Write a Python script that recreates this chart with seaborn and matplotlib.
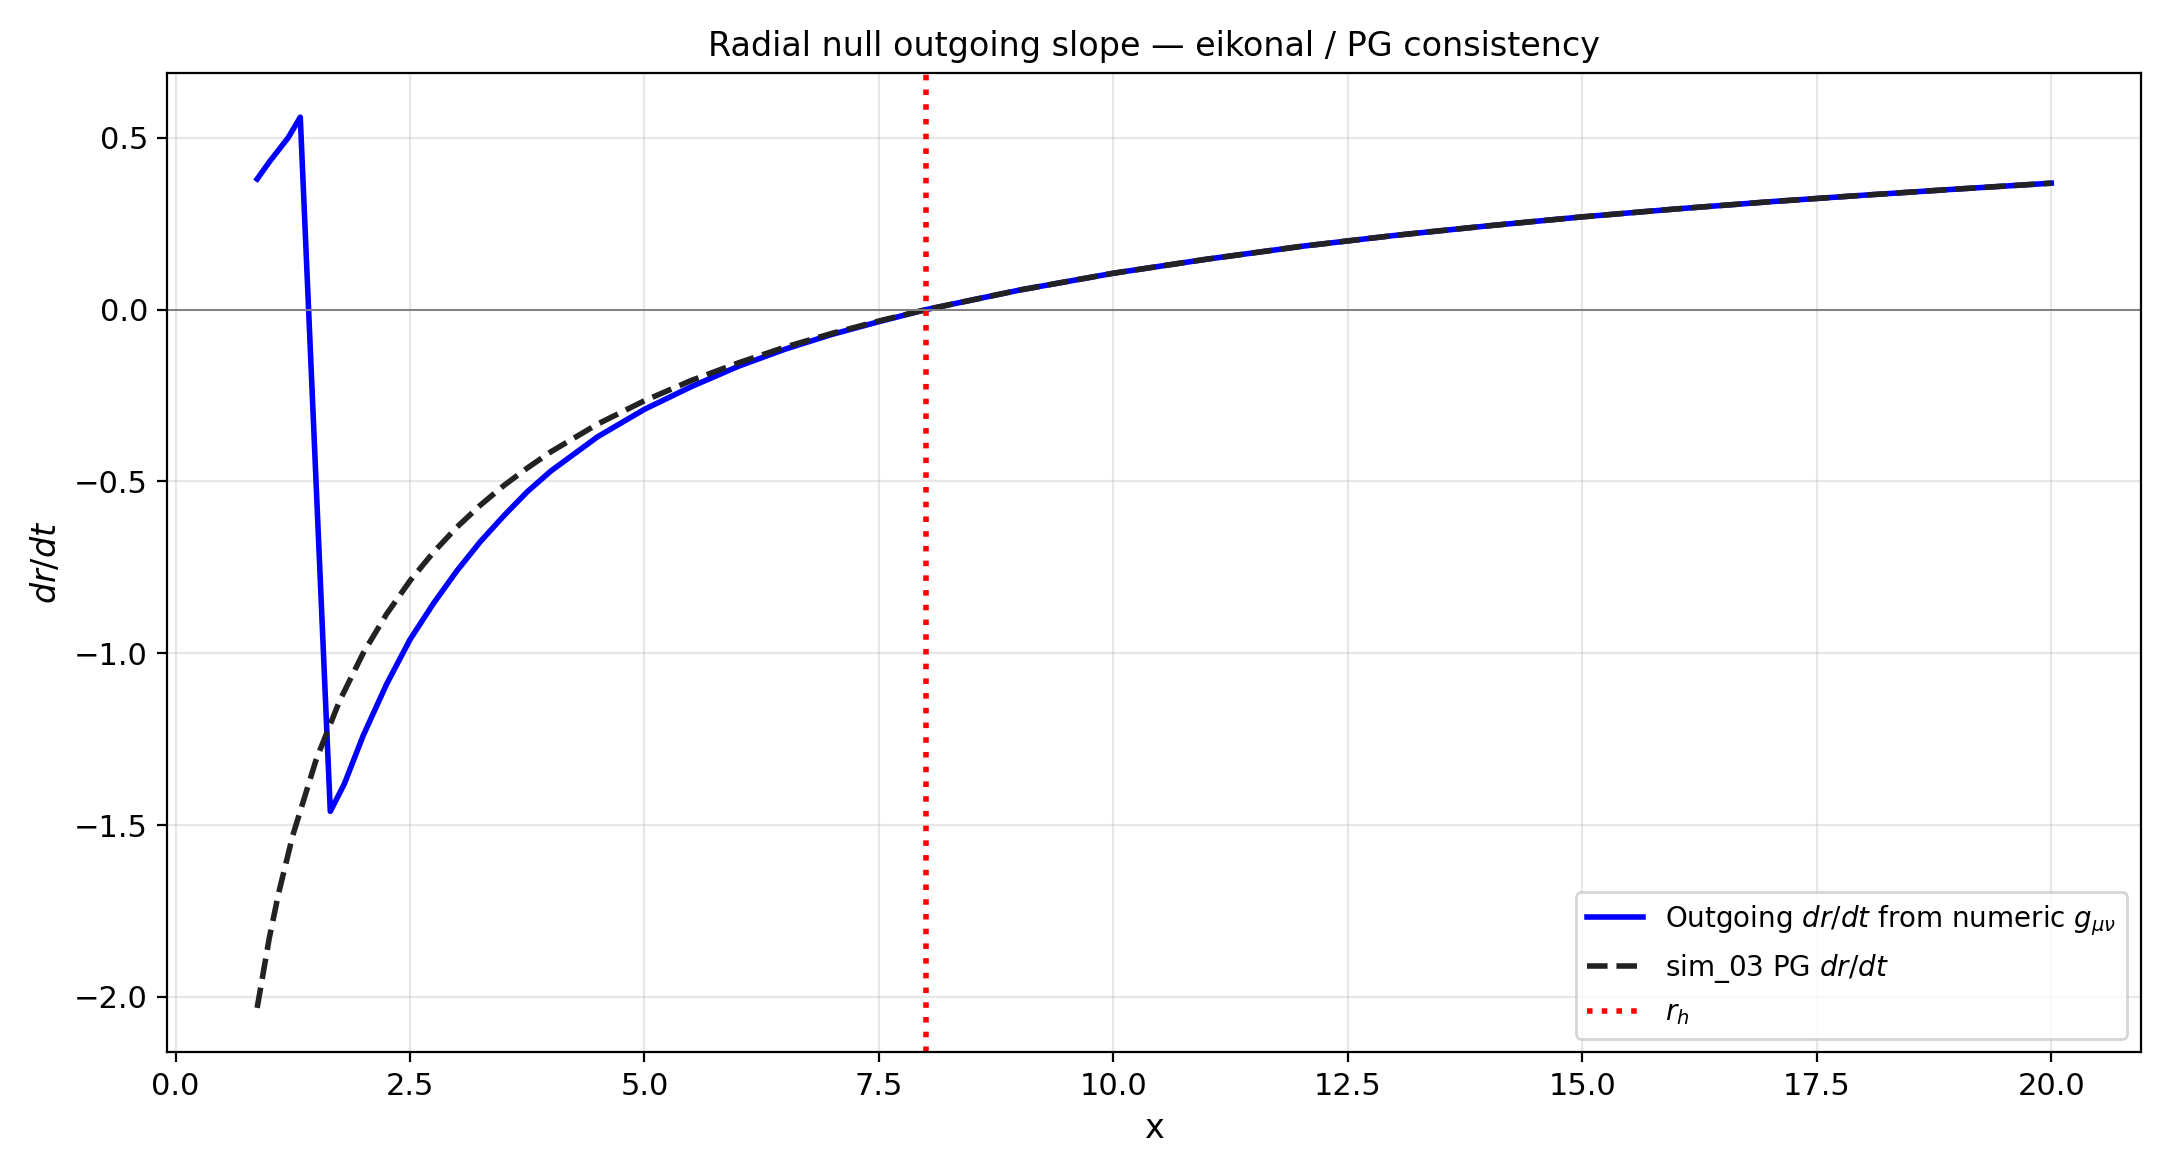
import matplotlib
matplotlib.use("Agg")
import matplotlib.pyplot as plt
import seaborn as sns

x_pg = [0.87,1.0,1.1,1.25,1.5,1.75,2.0,2.25,2.5,2.75,3,3.25,3.5,3.75,4,4.5,5,5.5,6,6.5,7,7.5,8,9,10,11,12,13,14,15,16,17,18,19,20]
y_pg = [-2.032,-1.828,-1.697,-1.530,-1.309,-1.138,-1.0,-0.886,-0.789,-0.706,-0.633,-0.569,-0.512,-0.461,-0.414,
        -0.333,-0.265,-0.206,-0.155,-0.109,-0.069,-0.033,0.0,
        0.057,0.106,0.147,0.184,0.216,0.244,0.270,0.293,0.314,0.333,0.351,0.368]
x_num = [0.87,1.0,1.2,1.33,1.65,1.8,2.0,2.25,2.5,2.75,3,3.25,3.5,3.75,4,4.5,5,5.5,6,6.5,7,7.5,8,9,10,11,12,13,14,15,16,17,18,19,20]
y_num = [0.38,0.43,0.50,0.56,-1.46,-1.38,-1.24,-1.09,-0.96,-0.855,-0.76,-0.675,-0.60,-0.53,-0.47,-0.37,-0.29,-0.224,
         -0.165,-0.115,-0.072,-0.035,0.0,
         0.057,0.106,0.147,0.184,0.216,0.244,0.270,0.293,0.314,0.333,0.351,0.368]
r_h = 8.0

fig, ax = plt.subplots(figsize=(10.855, 5.875), dpi=200)
sns.lineplot(x=x_num, y=y_num, ax=ax, color="blue", lw=2, sort=False,
             label=r"Outgoing $dr/dt$ from numeric $g_{\mu\nu}$")
sns.lineplot(x=x_pg, y=y_pg, ax=ax, color="#222222", lw=2, linestyle="--", sort=False,
             label=r"sim_03 PG $dr/dt$")
ax.axvline(r_h, color="red", ls=":", lw=2, label=r"$r_h$")
ax.axhline(0, color="gray", lw=0.7)
ax.grid(alpha=0.3)
ax.tick_params(labelsize=11)
ax.set_xlabel("x", fontsize=12)
ax.set_ylabel(r"$dr/dt$", fontsize=12)
ax.set_title("Radial null outgoing slope — eikonal / PG consistency", fontsize=12)
ax.legend(loc="lower right", fontsize=10)
fig.tight_layout()
fig.savefig("out.png", dpi=200)
